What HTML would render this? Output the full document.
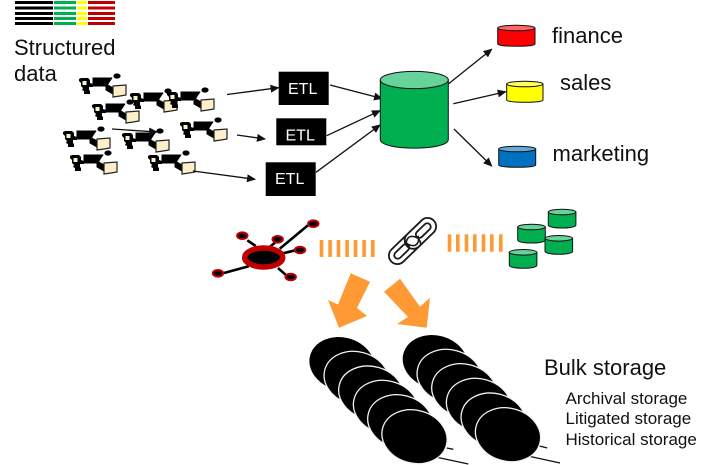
<!DOCTYPE html>
<html>
<head>
<meta charset="utf-8">
<style>
html,body{margin:0;padding:0;background:#fff;width:708px;height:465px;overflow:hidden}
svg{display:block;filter:blur(0.3px)}
text{font-family:"Liberation Sans",sans-serif;fill:#111}
</style>
</head>
<body>
<svg width="708" height="465" viewBox="0 0 708 465" xmlns="http://www.w3.org/2000/svg">
<defs>
<marker id="a" markerWidth="9" markerHeight="8" refX="8" refY="4" orient="auto" markerUnits="userSpaceOnUse"><path d="M0 0L9 4L0 8Z" fill="#111"/></marker>
<g id="pc">
  <path d="M-33-8h7l2 2v3l3 1v3h-4v3l1 1v3h-6v-3l-2-1l1-2l-2-2v-3l-2-2v-2z" fill="#000"/>
  <rect x="-31.5" y="-5" width="4" height="4" fill="#fcefc9"/>
  <path d="M-21.5-8.5H-1.5L-7 0.5H-21.5Z" fill="#000"/>
  <path d="M-8 -2L1 3L-1 8L-8 4Z M-2-8L-8-1" fill="#000" stroke="#000"/>
  <ellipse cx="3" cy="-10" rx="3.6" ry="2.6" fill="#000"/>
  <path d="M-1 0L12-1L12 9L6 10L-1 11Z" fill="#fcefc9" stroke="#222" stroke-width="1.2"/>
</g>
<g id="gc">
  <path d="M0 3V16C0 20 27.6 20 27.6 16V3Z" fill="#00b050" stroke="#111" stroke-width="1"/>
  <ellipse cx="13.8" cy="3" rx="13.8" ry="2.8" fill="#66d39a" stroke="#111" stroke-width="1"/>
</g>
</defs>

<!-- top bars -->
<g>
<rect x="15" y="1" width="38" height="3" fill="#000"/><rect x="54" y="1" width="22" height="3" fill="#00b050"/><rect x="77" y="1" width="10" height="3" fill="#ffff00"/><rect x="88" y="1" width="27" height="3" fill="#c00000"/>
<rect x="15" y="6.5" width="38" height="3" fill="#000"/><rect x="54" y="6.5" width="22" height="3" fill="#00b050"/><rect x="77" y="6.5" width="10" height="3" fill="#ffff00"/><rect x="88" y="6.5" width="27" height="3" fill="#c00000"/>
<rect x="15" y="12" width="38" height="3" fill="#000"/><rect x="54" y="12" width="22" height="3" fill="#00b050"/><rect x="77" y="12" width="10" height="3" fill="#ffff00"/><rect x="88" y="12" width="27" height="3" fill="#c00000"/>
<rect x="15" y="17" width="38" height="3" fill="#000"/><rect x="54" y="17" width="22" height="3" fill="#00b050"/><rect x="77" y="17" width="10" height="3" fill="#ffff00"/><rect x="88" y="17" width="27" height="3" fill="#c00000"/>
<rect x="15" y="22" width="38" height="3" fill="#000"/><rect x="54" y="22" width="22" height="3" fill="#00b050"/><rect x="77" y="22" width="10" height="3" fill="#ffff00"/><rect x="88" y="22" width="27" height="3" fill="#c00000"/>
</g>
<text x="14" y="55" font-size="22">Structured</text>
<text x="14" y="81" font-size="22">data</text>

<!-- source cluster -->
<use href="#pc" x="114" y="86"/>
<use href="#pc" x="165" y="101"/>
<use href="#pc" x="202" y="100"/>
<use href="#pc" x="127" y="112"/>
<use href="#pc" x="215" y="130"/>
<use href="#pc" x="98" y="139"/>
<use href="#pc" x="157" y="141"/>
<use href="#pc" x="105" y="163"/>
<use href="#pc" x="183" y="163"/>

<!-- arrows -->
<g stroke="#111" stroke-width="1.3" fill="none" marker-end="url(#a)">
<line x1="227" y1="94.5" x2="278.5" y2="87.7"/>
<line x1="112" y1="129" x2="157" y2="132"/>
<line x1="237" y1="135" x2="265" y2="139"/>
<line x1="193" y1="171" x2="255" y2="179.3"/>
<line x1="330" y1="85" x2="382" y2="98.5"/>
<line x1="326.7" y1="135.7" x2="380" y2="110.7"/>
<line x1="316" y1="172.3" x2="380" y2="125"/>
<line x1="448.3" y1="84" x2="491.7" y2="49.3"/>
<line x1="453.3" y1="103.7" x2="505.7" y2="91.7"/>
<line x1="454" y1="129" x2="491.7" y2="166"/>
</g>

<!-- ETL -->
<rect x="278.7" y="71.7" width="50" height="33.3" fill="#000"/>
<rect x="276.3" y="118.3" width="50" height="27" fill="#000"/>
<rect x="265.7" y="162.3" width="50" height="33.7" fill="#000"/>
<text x="288" y="94" font-size="16" style="fill:#fff">ETL</text>
<text x="285.5" y="140.5" font-size="16" style="fill:#fff">ETL</text>
<text x="275" y="184" font-size="16" style="fill:#fff">ETL</text>

<!-- main cylinder -->
<path d="M380.3 80V139.5C380.3 151 448.3 151 448.3 139.5V80Z" fill="#00b050" stroke="#111" stroke-width="1"/>
<ellipse cx="414.3" cy="80" rx="34" ry="8.6" fill="#66d39a" stroke="#111" stroke-width="1"/>

<!-- small cylinders -->
<path d="M497.7 28V44C497.7 47 535 47 535 44V28Z" fill="#ff0000" stroke="#111" stroke-width="1"/>
<ellipse cx="516.3" cy="28" rx="18.6" ry="2.8" fill="#ff6666" stroke="#111" stroke-width="1"/>
<path d="M506.7 84V100C506.7 103 543 103 543 100V84Z" fill="#ffff00" stroke="#111" stroke-width="1"/>
<ellipse cx="524.8" cy="84" rx="18.1" ry="2.8" fill="#ffff66" stroke="#111" stroke-width="1"/>
<path d="M498.7 149V165C498.7 168 535.7 168 535.7 165V149Z" fill="#0070c0" stroke="#111" stroke-width="1"/>
<ellipse cx="517.2" cy="149" rx="18.5" ry="2.8" fill="#66a9d9" stroke="#111" stroke-width="1"/>
<text x="552" y="43" font-size="22">finance</text>
<text x="560" y="90" font-size="22">sales</text>
<text x="552.5" y="161" font-size="22">marketing</text>

<!-- hub -->
<g stroke="#000" stroke-width="2.6">
<line x1="308" y1="225.3" x2="279.7" y2="248.7"/>
<line x1="247.3" y1="240.3" x2="255.7" y2="246"/>
<line x1="279.7" y1="238.7" x2="269.7" y2="247"/>
<line x1="298" y1="249.7" x2="283" y2="253.3"/>
<line x1="224" y1="273" x2="248.7" y2="266.3"/>
<line x1="286.3" y1="275.3" x2="278" y2="268"/>
</g>
<ellipse cx="263.7" cy="257.5" rx="19" ry="9.5" fill="#000" stroke="#c00000" stroke-width="5.5"/>
<g fill="#000" stroke="#c00000" stroke-width="2">
<ellipse cx="313.3" cy="223.7" rx="5.2" ry="3.3"/>
<ellipse cx="242.3" cy="235.7" rx="5.2" ry="3.3"/>
<ellipse cx="277.7" cy="239.3" rx="5.2" ry="3.3"/>
<ellipse cx="300" cy="250" rx="5.2" ry="3.3"/>
<ellipse cx="218" cy="273.3" rx="5.2" ry="3.3"/>
<ellipse cx="290.7" cy="277" rx="5.2" ry="3.3"/>
</g>

<!-- dashes -->
<g fill="#ff9933">
<rect x="319.7" y="240" width="3.6" height="17"/><rect x="328.3" y="240" width="3.6" height="17"/><rect x="336.7" y="240" width="3.6" height="17"/><rect x="345.3" y="240" width="3.6" height="17"/><rect x="353.7" y="240" width="3.6" height="17"/><rect x="362.3" y="240" width="3.6" height="17"/><rect x="371" y="240" width="3.6" height="17"/>
<rect x="447.7" y="234.3" width="3.6" height="17.4"/><rect x="456" y="234.3" width="3.6" height="17.4"/><rect x="464.7" y="234.3" width="3.6" height="17.4"/><rect x="473" y="234.3" width="3.6" height="17.4"/><rect x="481.7" y="234.3" width="3.6" height="17.4"/><rect x="490" y="234.3" width="3.6" height="17.4"/><rect x="499" y="234.3" width="3.6" height="17.4"/>
</g>

<!-- chain -->
<g transform="rotate(-44 412.5 241)" fill="none" stroke="#1a1a1a" stroke-width="1.8">
<rect x="383" y="232.5" width="37" height="17" rx="8.5" fill="#fff"/>
<rect x="405" y="232.5" width="37" height="17" rx="8.5" fill="#fff"/>
<rect x="388.5" y="237.5" width="18" height="7" rx="3.5"/>
<rect x="418.5" y="237.5" width="18" height="7" rx="3.5"/>
<path d="M408 237.5H417M408 244.5H417" stroke="#fff" stroke-width="3"/>
<path d="M405 241C407 236 412 234.5 415 237C418 240 420 245 416 249M420 241C418 246 413 247.5 410 245C407 242 405 237 409 233" stroke-width="1.6"/>
</g>

<!-- green cylinders -->
<use href="#gc" x="548.3" y="209"/>
<use href="#gc" x="517.7" y="224"/>
<use href="#gc" x="545" y="235.3"/>
<use href="#gc" x="509.3" y="249.3"/>

<!-- orange arrows -->
<polygon points="350.7,273.3 370,281.7 357,308 367,316 339,327.7 328,300 338,304.5" fill="#ff9933"/>
<polygon points="400,278.7 384,291.7 408,317 397,324 426.7,327.7 430,297.7 420,306.7" fill="#ff9933"/>

<!-- bulk storage -->
<g stroke="#111" stroke-width="1.3">
<line x1="446.7" y1="448" x2="453.3" y2="449.3"/>
<line x1="436.7" y1="457.3" x2="468.3" y2="464"/>
<line x1="539.3" y1="446" x2="547.3" y2="448"/>
<line x1="528" y1="456" x2="560" y2="463"/>
</g>
<g fill="#000" stroke="#f2f2f2" stroke-width="1.3">
<ellipse cx="342" cy="364" rx="33" ry="26.5" transform="rotate(15 342 364)" stroke="none"/>
<ellipse cx="356.7" cy="378.3" rx="33" ry="26.5" transform="rotate(15 356.7 378.3)"/>
<ellipse cx="371.3" cy="393" rx="33" ry="26.5" transform="rotate(15 371.3 393)"/>
<ellipse cx="386" cy="407.3" rx="33" ry="26.5" transform="rotate(15 386 407.3)"/>
<ellipse cx="400.3" cy="421.7" rx="33" ry="26.5" transform="rotate(15 400.3 421.7)"/>
<ellipse cx="414.5" cy="436.7" rx="33" ry="26.5" transform="rotate(15 414.5 436.7)"/>
<ellipse cx="435.3" cy="362" rx="33" ry="26.5" transform="rotate(15 435.3 362)" stroke="none"/>
<ellipse cx="449.7" cy="376.3" rx="33" ry="26.5" transform="rotate(15 449.7 376.3)"/>
<ellipse cx="464.3" cy="390.7" rx="33" ry="26.5" transform="rotate(15 464.3 390.7)"/>
<ellipse cx="479" cy="405.3" rx="33" ry="26.5" transform="rotate(15 479 405.3)"/>
<ellipse cx="493.7" cy="420" rx="33" ry="26.5" transform="rotate(15 493.7 420)"/>
<ellipse cx="508" cy="434.7" rx="33" ry="26.5" transform="rotate(15 508 434.7)"/>
</g>
<text x="544" y="375" font-size="22">Bulk storage</text>
<text x="565.5" y="404" font-size="17">Archival storage</text>
<text x="565.5" y="424" font-size="17">Litigated storage</text>
<text x="565.5" y="445" font-size="17">Historical storage</text>
</svg>
</body>
</html>
